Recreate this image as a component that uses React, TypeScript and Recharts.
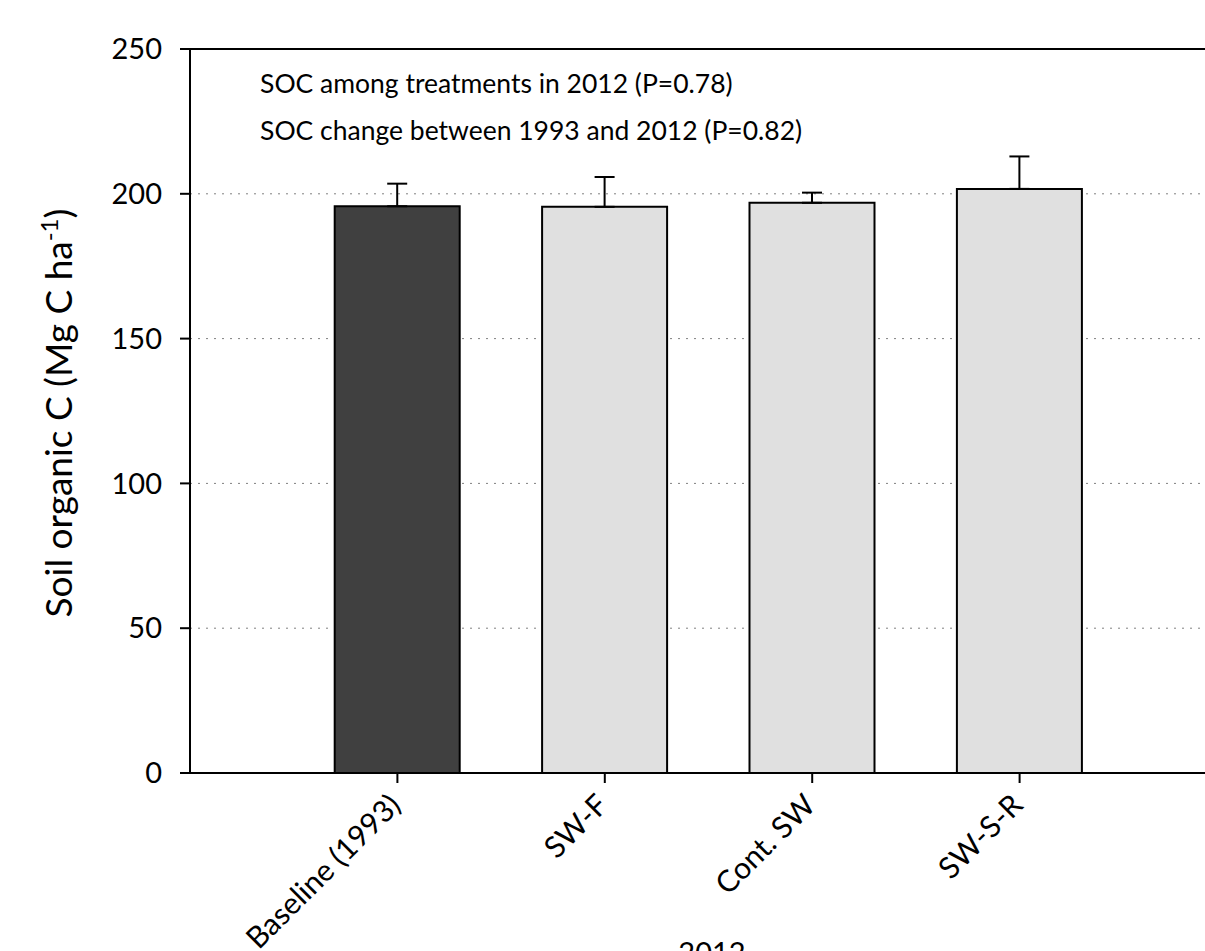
import React from 'react';
import { BarChart, Bar, XAxis, YAxis, CartesianGrid, ErrorBar, Cell, ReferenceLine, Customized } from 'recharts';

const categories = ['Baseline (1993)', 'SW-F', 'Cont. SW', 'SW-S-R'];
const positions = [1, 2, 3, 4];
const socValues = [195.7, 195.5, 196.9, 201.7];
const socErrors = [7.8, 10.3, 3.5, 11.2];
const yTicks = [0, 50, 100, 150, 200, 250];
const notes = ['SOC among treatments in 2012 (P=0.78)', 'SOC change between 1993 and 2012 (P=0.82)'];

const data = positions.map((pos, i) => ({
  pos,
  soc: socValues[i],
  err: [0, socErrors[i]],
}));

const FONT = 'Lato, "Open Sans", sans-serif';

const CategoryTick = ({ x, y, payload }: any) => (
  <text
    x={0}
    y={0}
    transform={`translate(${x + 5},${y + 22}) rotate(-45)`}
    textAnchor="end"
    fontSize={30}
    fontFamily={FONT}
    fill="#000"
  >
    {categories[payload.value - 1]}
  </text>
);

const Extras = () => (
  <g fontFamily={FONT} fill="#000">
    <text x={260} y={93} fontSize={26.5}>{notes[0]}</text>
    <text x={260} y={140} fontSize={26.5}>{notes[1]}</text>
    <text transform="translate(72,413) rotate(-90)" textAnchor="middle" fontSize={37}>
      Soil organic C (Mg C ha<tspan dy={-14} fontSize={24}>-1</tspan>
      <tspan dy={14}>)</tspan>
    </text>
    <text x={712} y={963} textAnchor="middle" fontSize={29}>2012</text>
  </g>
);

export default function App() {
  return (
    <div style={{ position: 'absolute', left: 0, top: 0, width: 1205, height: 951, overflow: 'hidden', background: '#fff' }}>
      <BarChart
        width={1240}
        height={1000}
        data={data}
        margin={{ top: 49, right: 13, bottom: 77, left: 80 }}
      >
        <CartesianGrid horizontal vertical={false} stroke="#808080" strokeDasharray="2 6" />
        <XAxis
          dataKey="pos"
          type="number"
          domain={[0, 5]}
          ticks={positions}
          height={150}
          tickSize={10}
          tick={<CategoryTick />}
          axisLine={{ stroke: '#000', strokeWidth: 2 }}
          tickLine={{ stroke: '#000', strokeWidth: 2 }}
        />
        <YAxis
          domain={[0, 250]}
          ticks={yTicks}
          width={110}
          tickSize={10}
          tickMargin={18}
          tick={{ fill: '#000', fontSize: 29, fontFamily: FONT }}
          axisLine={{ stroke: '#000', strokeWidth: 2 }}
          tickLine={{ stroke: '#000', strokeWidth: 2 }}
        />
        <ReferenceLine y={250} stroke="#000" strokeWidth={2} />
        <Bar dataKey="soc" barSize={125} stroke="#000" strokeWidth={2} isAnimationActive={false}>
          {data.map((_, i) => (
            <Cell key={i} fill={i === 0 ? '#404040' : '#e0e0e0'} />
          ))}
          <ErrorBar dataKey="err" direction="y" width={10} stroke="#000" strokeWidth={2} />
        </Bar>
        <Customized component={Extras} />
      </BarChart>
    </div>
  );
}
